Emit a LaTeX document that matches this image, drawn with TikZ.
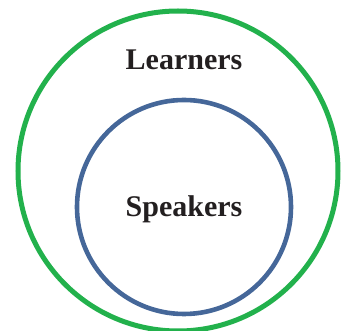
\documentclass[tikz,border=0pt]{standalone}
\usepackage{fontspec}
\setmainfont{Liberation Serif}
\definecolor{setgreen}{RGB}{34,177,76}
\definecolor{setblue}{RGB}{69,103,153}
\definecolor{labelink}{RGB}{35,31,32}
\begin{document}
\begin{tikzpicture}[x=1pt,y=-1pt,
  setring/.style={line width=#1},
  setlabel/.style={anchor=base,inner sep=0pt,text=labelink,
    font=\fontsize{30}{36}\selectfont\bfseries}]
  \useasboundingbox (0,0) rectangle (341,331);
  % outer set and nested inner set
  \draw[setring=5, setgreen] (178,171) circle[radius=160];
  \draw[setring=4.6, setblue] (184,207) circle[radius=107];
  \node[setlabel] (learners) at (184,70) {Learners};
  \node[setlabel] (speakers) at (184,217) {Speakers};
\end{tikzpicture}
\end{document}
